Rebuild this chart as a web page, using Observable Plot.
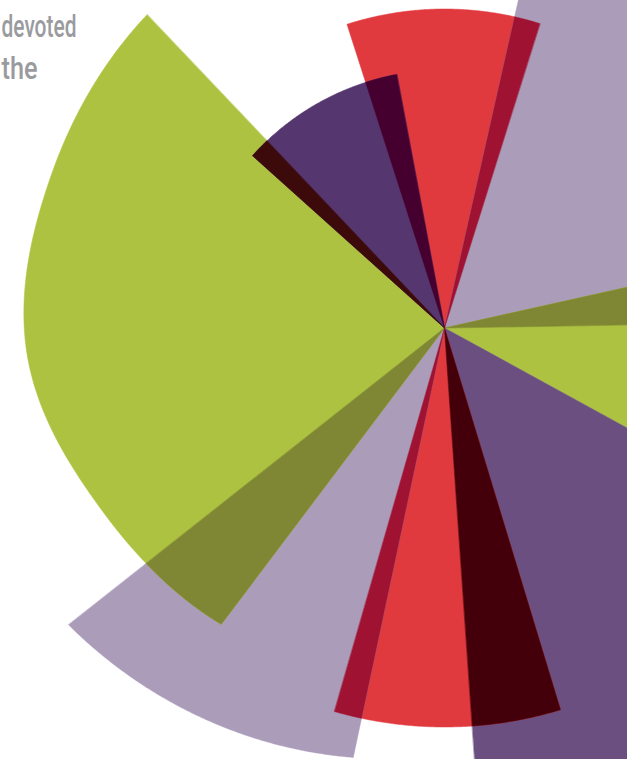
<!DOCTYPE html>
<html><head><meta charset="utf-8">
<script src="https://cdn.jsdelivr.net/npm/d3@7"></script>
<script src="https://cdn.jsdelivr.net/npm/@observablehq/plot@0.6"></script>
<style>html,body{margin:0;padding:0;background:#fff;overflow:hidden}</style>
</head><body><div id="chart"></div>
<script>
// Wedges clockwise from north (degrees)
const wedgeNames = ["Red A","Lavender A","Lime A","Purple A","Red B","Lavender B","Lime B","Violet B"];
const startDeg = [-17.8, 12.7, 77.4, 118.7, 163.1, 192.0, 217.0, 311.9];
const endDeg   = [17.4, 89.0, 118.7, 176.0, 196.0, 231.7, 316.5, 349.3];
// outer radius samples, evenly spread from start to end of each wedge
const outerRadius = [[319],[420],[300],[490],[399],[439,479],[371,388,418.5,422,432],[258]];
const wedgeColors = ["#e03a3e","#ab9cba","#adc241","#6a4f80","#e03a3e","#ab9cba","#adc241","#55366e"];
// colour where wedge i overlaps wedge i+1
const overlapColors = ["#a01232","#7f8735",null,"#44000a","#a01232","#7f8735","#3d0a0c","#46002f"];
const textLines = ["devoted","the"];

const W = 627, H = 759, CX = 444, CY = 327.5;
const n = wedgeNames.length;
const rad = Math.PI / 180;

// smooth (Catmull-Rom) interpolation through the radius samples
function radiusAt(i, theta) {
  const s = outerRadius[i];
  const m = s.length;
  if (m === 1) return s[0];
  const t = Math.max(0, Math.min(1, (theta - startDeg[i]) / (endDeg[i] - startDeg[i]))) * (m - 1);
  const k = Math.min(m - 2, Math.floor(t));
  const u = t - k;
  const p1 = s[k], p2 = s[k + 1];
  const p0 = k > 0 ? s[k - 1] : 2 * p1 - p2;
  const p3 = k + 2 < m ? s[k + 2] : 2 * p2 - p1;
  return 0.5 * (2 * p1 + (-p0 + p2) * u + (2 * p0 - 5 * p1 + 4 * p2 - p3) * u * u + (-p0 + 3 * p1 - 3 * p2 + p3) * u * u * u);
}

const pts = [];
function addShape(id, color, lo, hi, rFn) {
  pts.push({id, color, x: 0, y: 0});
  const steps = Math.max(2, Math.ceil((hi - lo) / 0.25));
  for (let k = 0; k <= steps; k++) {
    const th = lo + (hi - lo) * k / steps;
    const r = rFn(th);
    pts.push({id, color, x: r * Math.sin(th * rad), y: r * Math.cos(th * rad)});
  }
}
for (let i = 0; i < n; i++) {
  addShape("w" + i, wedgeColors[i], startDeg[i], endDeg[i], th => radiusAt(i, th));
}
for (let i = 0; i < n; i++) {
  if (!overlapColors[i]) continue;
  const j = (i + 1) % n;
  const shift = j === 0 ? 360 : 0;
  const lo = Math.max(startDeg[i], startDeg[j] + shift);
  const hi = Math.min(endDeg[i], endDeg[j] + shift);
  if (hi <= lo) continue;
  addShape("o" + i, overlapColors[i], lo, hi, th => Math.min(radiusAt(i, th), radiusAt(j, th - shift)));
}

const font = "Roboto, 'Open Sans', sans-serif";
const textStyle = {text: d => d, frameAnchor: "top-left", lineAnchor: "bottom", textAnchor: "start", fontSize: 32, fontWeight: 500, fontFamily: font, fill: "#9a9b9f"};
const chart = Plot.plot({
  width: W, height: H, margin: 0,
  x: {domain: [-CX, W - CX], axis: null},
  y: {domain: [-(H - CY), CY], axis: null},
  color: {type: "identity"},
  marks: [
    Plot.line(pts, {x: "x", y: "y", z: "id", fill: "color", stroke: "color", strokeWidth: 0.5, curve: "linear-closed", clip: true}),
    Plot.text([textLines[0]], {...textStyle, dx: 1, dy: 36}),
    Plot.text([textLines[1]], {...textStyle, dx: 1, dy: 78})
  ]
});
// condense the label glyphs to the reference's narrow lettering
const fitWidths = {"devoted": 75, "the": 36};
d3.select(chart).selectAll('g[aria-label="text"] text').each(function() {
  const w = fitWidths[this.textContent];
  if (w) { this.setAttribute("textLength", w); this.setAttribute("lengthAdjust", "spacingAndGlyphs"); }
});
document.getElementById("chart").appendChild(chart);
</script>
</body></html>
